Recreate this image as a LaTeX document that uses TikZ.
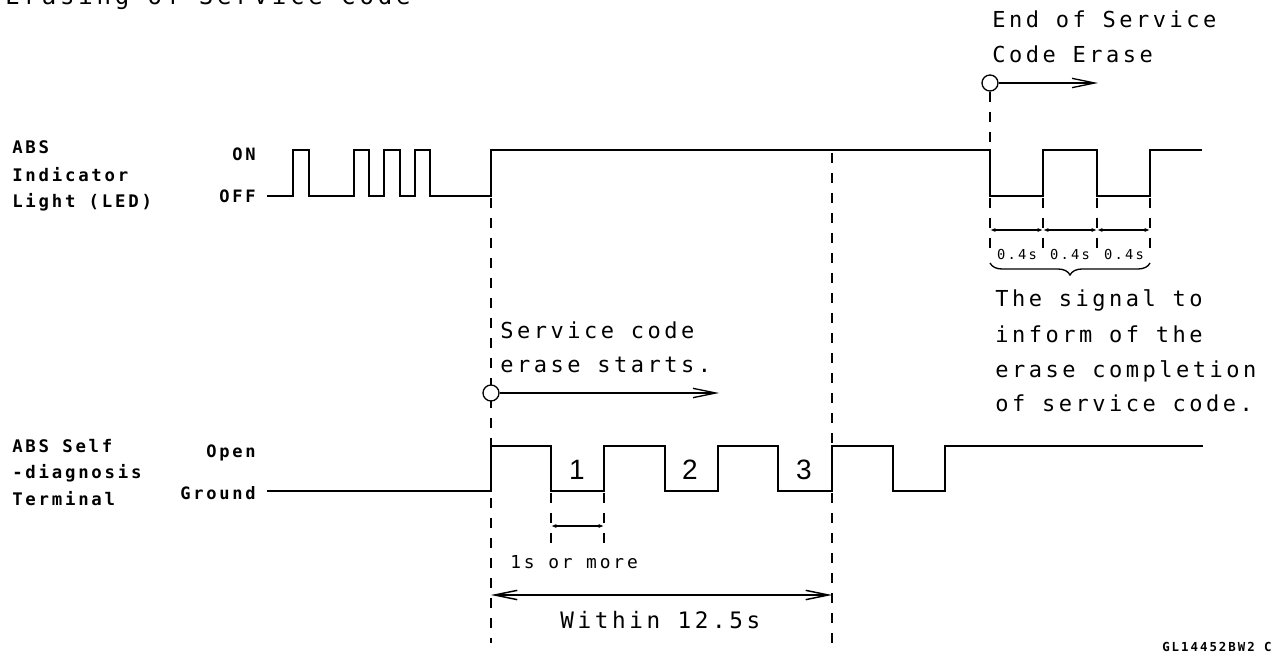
\documentclass[tikz,border=0pt]{standalone}
\usepackage{fontspec}
\setmainfont{DejaVu Sans Mono}[LetterSpace=16]
\newfontfamily\digf{Liberation Sans}
\usetikzlibrary{arrows.meta,decorations.pathreplacing}
\begin{document}
\begin{tikzpicture}[x=0.75pt,y=-0.75pt,
  sig/.style={line width=1.1pt},
  guide/.style={line width=1.1pt,dash pattern=on 7.5pt off 7.5pt},
  txt/.style={inner sep=0pt,anchor=base west,font=\fontsize{16.5}{20}\selectfont},
  lab/.style={inner sep=0pt,anchor=base west,font=\fontsize{13}{15}\selectfont\bfseries},
  lvl/.style={inner sep=0pt,anchor=base east,font=\fontsize{12.8}{15}\selectfont\bfseries},
  small/.style={inner sep=0pt,anchor=base,font=\fontsize{10.3}{12}\selectfont},
  digit/.style={inner sep=0pt,font=\fontsize{21}{24}\digf\selectfont},
  marker/.style={circle,draw,fill=white,line width=1pt,minimum size=12pt,inner sep=0pt},
  longarrow/.style={line width=1pt,-{Straight Barb[length=17pt,width=7pt]}},
  dim/.style={line width=0.9pt,{Latex[length=4pt,width=3pt]}-{Latex[length=4pt,width=3pt]}},
  within/.style={line width=1.1pt,{Straight Barb[length=17pt,width=7pt]}-{Straight Barb[length=17pt,width=7pt]}}
]
\useasboundingbox (0,0) rectangle (1278,659);
\fill[white] (0,0) rectangle (1278,659);

% title (cut off at the top, as in the reference)
\node[inner sep=0pt,anchor=base west,font=\fontsize{18}{20}\selectfont] (title) at (5,5) {Erasing of Service Code};

% left labels
\node[lab] (l1) at (12,154) {ABS};
\node[lab] (l2) at (12,182) {Indicator};
\node[lab] (l3) at (12,208) {Light (LED)};
\node[lvl] (on) at (256,161) {ON};
\node[lvl] (off) at (256,203) {OFF};
\node[lab] (t1) at (12,452) {ABS Self};
\node[lab] (t2) at (12,478) {-diagnosis};
\node[lab] (t3) at (12,505) {Terminal};
\node[lvl] (open) at (256,457) {Open};
\node[lvl] (gnd) at (256,499) {Ground};

% guide coordinates
\coordinate (gA1) at (491,198);
\coordinate (gA2) at (491,643);
\coordinate (gB1) at (832,153);
\coordinate (gB2) at (832,643);
\coordinate (gC1) at (990,150);
\foreach \x/\n in {990/a,1043/b,1097/c,1150/d}{
  \coordinate (tk\n1) at (\x,198);
  \coordinate (tk\n2) at (\x,250);
  \coordinate (dm\n) at (\x,230);
}
\coordinate (s1a) at (551,493);
\coordinate (s1b) at (551,544);
\coordinate (s2a) at (604,493);
\coordinate (s2b) at (604,544);
\coordinate (sd1) at (551,526);
\coordinate (sd2) at (604,526);

% dashed guides
\draw[guide] (gA1) -- (gA2);
\draw[guide] (gB1) -- (gB2);
\foreach \n in {a,b,c,d}{\draw[guide] (tk\n1) -- (tk\n2);}
\draw[guide] (s1a) -- (s1b);
\draw[guide] (s2a) -- (s2b);

% LED waveform
\draw[sig] (267,196) -- (293,196) -- (293,150) -- (309,150) -- (309,196)
  -- (354,196) -- (354,150) -- (369,150) -- (369,196)
  -- (384,196) -- (384,150) -- (400,150) -- (400,196)
  -- (415,196) -- (415,150) -- (430,150) -- (430,196)
  -- (491,196) -- (491,150) -- (990,150) -- (990,196)
  -- (1043,196) -- (1043,150) -- (1097,150) -- (1097,196)
  -- (1150,196) -- (1150,150) -- (1202,150);

% terminal waveform
\draw[sig] (267,491) -- (491,491) -- (491,446) -- (551,446) -- (551,491)
  -- (604,491) -- (604,446) -- (665,446) -- (665,491)
  -- (718,491) -- (718,446) -- (778,446) -- (778,491)
  -- (832,491) -- (832,446) -- (893,446) -- (893,491)
  -- (945,491) -- (945,446) -- (1203,446);

\node[digit] (n1) at (577,470) {1};
\node[digit] (n2) at (690,470) {2};
\node[digit] (n3) at (804,470) {3};

% start marker
\node[marker] (c1) at (491,393) {};
\coordinate (a1) at (719,393);
\draw[longarrow] (c1.east) -- (a1);
\node[txt] (sc1) at (500,339) {Service code};
\node[txt] (sc2) at (500,373) {erase starts.};

% end marker
\node[marker] (c2) at (990,83) {};
\coordinate (a2) at (1098,83);
\draw[longarrow] (c2.east) -- (a2);
\draw[guide] (c2.south) -- (gC1);
\node[txt] (e1) at (992,28) {End of Service};
\node[txt] (e2) at (992,63) {Code Erase};

% 0.4 s dimensions
\draw[dim] (dma) -- (dmb);
\draw[dim] (dmb) -- (dmc);
\draw[dim] (dmc) -- (dmd);
\node[small] (d1) at (1017,260) {0.4s};
\node[small] (d2) at (1070,260) {0.4s};
\node[small] (d3) at (1124,260) {0.4s};
\coordinate (br1) at (1150,263);
\coordinate (br2) at (990,263);
\draw[line width=1pt,decorate,decoration={brace,amplitude=9pt}] (br1) -- (br2);

\node[txt] (m1) at (995,307) {The signal to};
\node[txt] (m2) at (995,342) {inform of the};
\node[txt] (m3) at (995,377) {erase completion};
\node[txt] (m4) at (995,411) {of service code.};

% 1 s dimension
\draw[dim] (sd1) -- (sd2);
\node[inner sep=0pt,anchor=base west,font=\fontsize{13.4}{15}\selectfont] (one) at (510,568) {1s or more};

% within 12.5 s
\coordinate (w1) at (491,595);
\coordinate (w2) at (832,595);
\draw[within] (w1) -- (w2);
\node[inner sep=0pt,anchor=base west,font=\fontsize{17}{20}\selectfont] (wt) at (560,628) {Within 12.5s};

\node[inner sep=0pt,anchor=base west,font=\fontsize{9.3}{11}\selectfont\bfseries] (gl) at (1162,651) {GL14452BW2 C};
\end{tikzpicture}
\end{document}
